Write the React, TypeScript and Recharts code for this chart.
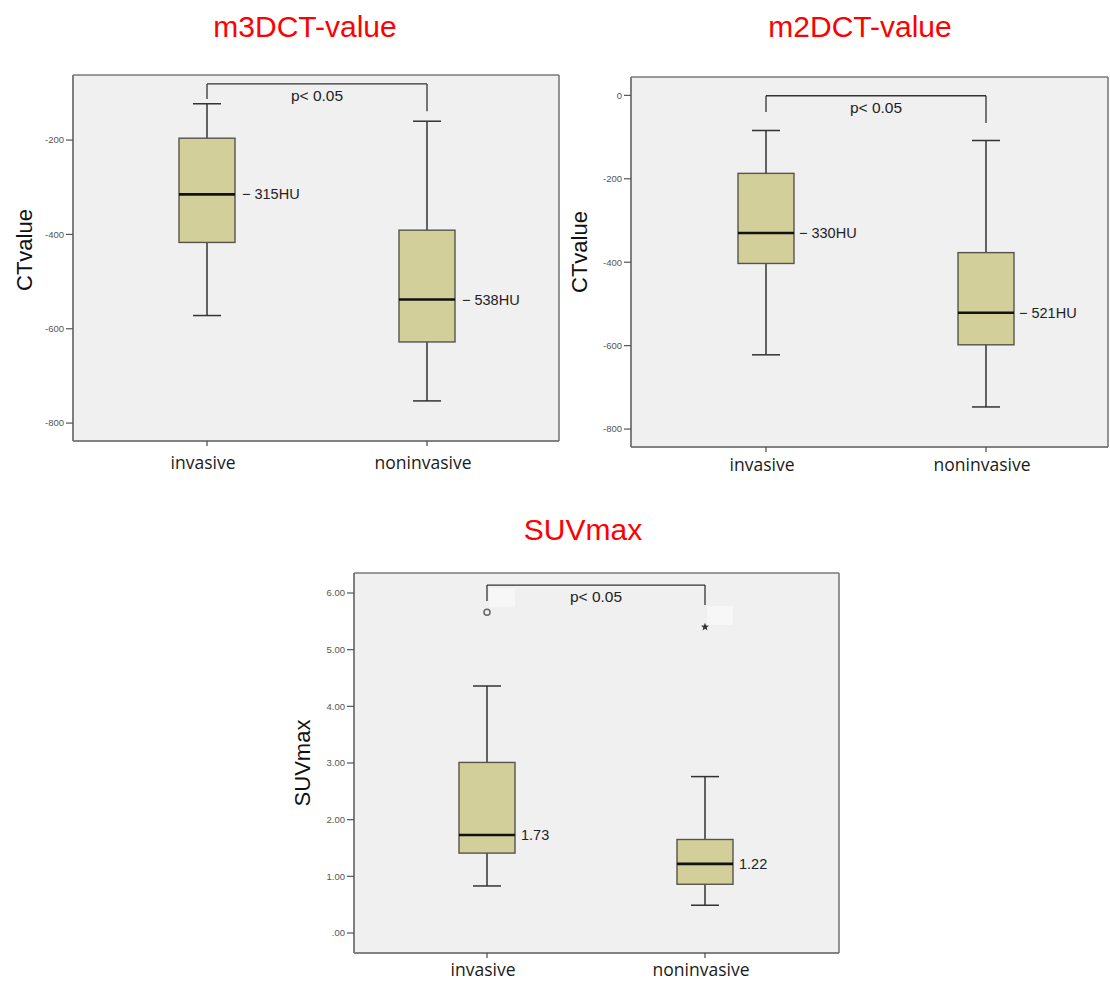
import React from 'react';
import { ComposedChart, Bar, XAxis, YAxis, CartesianGrid, ReferenceLine, Scatter } from 'recharts';

// ---------- data ----------
const categories = ['invasive', 'noninvasive'];

// m3DCT-value (HU)
const m3Min = [-572, -753];
const m3Q1 = [-417, -628];
const m3Median = [-315, -538];
const m3Q3 = [-196, -391];
const m3Max = [-123, -160];
const m3Labels = ['\u2212 315HU', '\u2212 538HU'];
const m3Ticks = [-800, -600, -400, -200];
const m3Domain = [-838, -62];
const m3Bracket = [-81, -113, -139]; // bar level, left end, right end

// m2DCT-value (HU)
const m2Min = [-622, -747];
const m2Q1 = [-403, -598];
const m2Median = [-330, -521];
const m2Q3 = [-187, -377];
const m2Max = [-84, -108];
const m2Labels = ['\u2212 330HU', '\u2212 521HU'];
const m2Ticks = [-800, -600, -400, -200, 0];
const m2Domain = [-843, 44];
const m2Bracket = [-1, -40, -66];

// SUVmax
const suvMin = [0.83, 0.49];
const suvQ1 = [1.41, 0.86];
const suvMedian = [1.73, 1.22];
const suvQ3 = [3.01, 1.65];
const suvMax = [4.36, 2.76];
const suvLabels = ['1.73', '1.22'];
const suvOutliers = [5.66, 5.4];
const suvOutlierMarks = ['circle', 'star'];
const suvTicks = [0, 1, 2, 3, 4, 5, 6];
const suvDomain = [-0.353, 6.353];
const suvBracket = [6.14, 5.86, 5.79];

const pText = 'p< 0.05';

function buildRows(mins: number[], q1s: number[], meds: number[], q3s: number[], maxs: number[], labels: string[], outliers?: number[], marks?: string[]) {
  return categories.map((name, i) => ({
    name,
    min: mins[i],
    q1: q1s[i],
    median: meds[i],
    q3: q3s[i],
    max: maxs[i],
    range: [mins[i], maxs[i]],
    label: labels[i],
    outlier: outliers ? outliers[i] : undefined,
    mark: marks ? marks[i] : undefined,
  }));
}

const m3Rows = buildRows(m3Min, m3Q1, m3Median, m3Q3, m3Max, m3Labels);
const m2Rows = buildRows(m2Min, m2Q1, m2Median, m2Q3, m2Max, m2Labels);
const suvRows = buildRows(suvMin, suvQ1, suvMedian, suvQ3, suvMax, suvLabels, suvOutliers, suvOutlierMarks);

// ---------- styles ----------
const FRAME = '#7a7a7a';
const BOX_FILL = '#d3cf9a';
const BOX_STROKE = '#55554a';
const WHISKER = '#333333';
const PLOT_BG = '#f0f0f0';
const SANS = '"Liberation Sans", Arial, sans-serif';
const CAT_FONT = '"Open Sans", "Noto Sans", sans-serif';

function makeBoxShape(labelGap: number, labelSize: number) {
  return (props: any) => {
    const { x, y, width, height } = props;
    const d = props.payload ?? props;
    const { min, max, q1, q3, median, label } = d;
    if (height == null || !isFinite(height)) return <g />;
    const py = (v: number) => y + ((max - v) / (max - min)) * height;
    const cx = x + width / 2;
    const capHalf = width / 4;
    return (
      <g>
        <line x1={cx} x2={cx} y1={py(max)} y2={py(q3)} stroke={WHISKER} strokeWidth={1.5} />
        <line x1={cx} x2={cx} y1={py(q1)} y2={py(min)} stroke={WHISKER} strokeWidth={1.5} />
        <line x1={cx - capHalf} x2={cx + capHalf} y1={py(max)} y2={py(max)} stroke={WHISKER} strokeWidth={1.5} />
        <line x1={cx - capHalf} x2={cx + capHalf} y1={py(min)} y2={py(min)} stroke={WHISKER} strokeWidth={1.5} />
        <rect x={x} y={py(q3)} width={width} height={py(q1) - py(q3)} fill={BOX_FILL} stroke={BOX_STROKE} strokeWidth={1.4} />
        <line x1={x} x2={x + width} y1={py(median)} y2={py(median)} stroke="#111" strokeWidth={2.6} />
        <text x={x + width + labelGap} y={py(median)} dy="0.35em" fontFamily={SANS} fontSize={labelSize} fill="#222">
          {label}
        </text>
      </g>
    );
  };
}

const OutlierShape = (props: any) => {
  const { cx, cy, payload } = props;
  if (cx == null || cy == null) return <g />;
  const mark = payload?.mark;
  const pts: string[] = [];
  for (let k = 0; k < 10; k++) {
    const r = k % 2 === 0 ? 4.2 : 1.8;
    const a = -Math.PI / 2 + (k * Math.PI) / 5;
    pts.push(`${cx + r * Math.cos(a)},${cy + r * Math.sin(a)}`);
  }
  return (
    <g>
      <rect x={cx + 2} y={cy - (mark === 'star' ? 21 : 24)} width={26} height={19} fill="#f7f7f7" />
      {mark === 'star' ? (
        <polygon points={pts.join(' ')} fill="#333" />
      ) : (
        <circle cx={cx} cy={cy} r={3} fill="none" stroke="#666" strokeWidth={1.5} />
      )}
    </g>
  );
};

type PanelProps = {
  left: number;
  top: number;
  width: number;
  height: number;
  marginTop: number;
  marginRight: number;
  yWidth: number;
  xHeight: number;
  padL: number;
  padR: number;
  rows: any[];
  ticks: number[];
  domain: number[];
  fmt: (v: number) => string;
  yLabel: string;
  yLabelX: number;
  yLabelDy: number;
  bracket: number[];
  labelGap: number;
  labelSize: number;
  catDy: number;
  withOutliers?: boolean;
};

// frame lines along the plot-area edges, taken from the chart's own layout offset
const frameH = (args: any) => {
  const o = args.offset;
  return [o.top, o.top + o.height];
};
const frameV = (args: any) => {
  const o = args.offset;
  return [o.left, o.left + o.width];
};

function Panel(p: PanelProps) {
  const shape = makeBoxShape(p.labelGap, p.labelSize);
  const CatTick = (tp: any) => (
    <text x={tp.x} y={tp.y} dx={-4} dy={p.catDy} textAnchor="middle" fontFamily={CAT_FONT} fontSize={17.5} fill="#1a1a1a">
      {tp.payload.value}
    </text>
  );
  const YLabel = (lp: any) => {
    const vb = lp.viewBox || {};
    const cx = vb.x + p.yLabelX;
    const cy = vb.y + vb.height / 2 + p.yLabelDy;
    return (
      <text x={cx} y={cy} transform={`rotate(-90 ${cx} ${cy})`} textAnchor="middle" dy="0.35em" fontFamily={SANS} fontSize={22} fill="#111">
        {p.yLabel}
      </text>
    );
  };
  const lineStyle = { stroke: '#333', strokeWidth: 1.3 };
  return (
    <div style={{ position: 'absolute', left: p.left, top: p.top, width: p.width, height: p.height }}>
      <ComposedChart
        width={p.width}
        height={p.height}
        data={p.rows}
        margin={{ top: p.marginTop, right: p.marginRight, bottom: 0, left: 0 }}
      >
        <CartesianGrid
          fill={PLOT_BG}
          fillOpacity={1}
          stroke={FRAME}
          strokeWidth={1.6}
          horizontalCoordinatesGenerator={frameH}
          verticalCoordinatesGenerator={frameV}
        />
        <XAxis
          dataKey="name"
          type="category"
          height={p.xHeight}
          padding={{ left: p.padL, right: p.padR }}
          tickSize={5}
          tickLine={{ stroke: '#555', strokeWidth: 1.3 }}
          axisLine={{ stroke: FRAME, strokeWidth: 1.6 }}
          tick={CatTick}
          interval={0}
        />
        <YAxis
          type="number"
          width={p.yWidth}
          domain={p.domain}
          ticks={p.ticks}
          allowDataOverflow
          interval={0}
          tickFormatter={p.fmt}
          tickSize={7}
          tickMargin={2}
          tickLine={{ stroke: '#555', strokeWidth: 1.2 }}
          axisLine={{ stroke: FRAME, strokeWidth: 1.6 }}
          tick={{ fontSize: 9.5, fill: '#555', fontFamily: SANS }}
          label={<YLabel />}
        />
        <Bar dataKey="range" barSize={56} shape={shape} isAnimationActive={false} />
        {p.withOutliers ? (
          <Scatter dataKey="outlier" shape={OutlierShape} isAnimationActive={false} />
        ) : null}
        <ReferenceLine
          segment={[{ x: categories[0], y: p.bracket[0] }, { x: categories[1], y: p.bracket[0] }]}
          {...lineStyle}
          label={{ value: pText, position: 'bottom', offset: 6, fontSize: 15.5, fill: '#222', fontFamily: SANS }}
        />
        <ReferenceLine segment={[{ x: categories[0], y: p.bracket[0] }, { x: categories[0], y: p.bracket[1] }]} {...lineStyle} />
        <ReferenceLine segment={[{ x: categories[1], y: p.bracket[0] }, { x: categories[1], y: p.bracket[2] }]} {...lineStyle} />
      </ComposedChart>
    </div>
  );
}

const intFmt = (v: number) => String(v);
const suvFmt = (v: number) => (v === 0 ? '.00' : v.toFixed(2));

export default function App() {
  return (
    <div style={{ position: 'absolute', left: 0, top: 0, width: 1110, height: 983, background: '#fff', overflow: 'hidden' }}>
      <svg width={1110} height={983} style={{ position: 'absolute', left: 0, top: 0 }}>
        <text x={305} y={37} textAnchor="middle" fontFamily={SANS} fontSize={30} fill="#ff0000">m3DCT-value</text>
        <text x={860} y={37} textAnchor="middle" fontFamily={SANS} fontSize={30} fill="#ff0000">m2DCT-value</text>
        <text x={583} y={540} textAnchor="middle" fontFamily={SANS} fontSize={30} fill="#ff0000">SUVmax</text>
      </svg>
      <Panel
        left={0} top={0} width={570} height={490}
        marginTop={75} marginRight={11} yWidth={73} xHeight={49}
        padL={24} padR={22}
        rows={m3Rows} ticks={m3Ticks} domain={m3Domain} fmt={intFmt}
        yLabel="CTvalue" yLabelX={24} yLabelDy={-8} bracket={m3Bracket}
        labelGap={7} labelSize={14.5} catDy={21}
      />
      <Panel
        left={560} top={0} width={550} height={490}
        marginTop={77} marginRight={2} yWidth={71} xHeight={43}
        padL={25} padR={12}
        rows={m2Rows} ticks={m2Ticks} domain={m2Domain} fmt={intFmt}
        yLabel="CTvalue" yLabelX={19} yLabelDy={-10} bracket={m2Bracket}
        labelGap={5} labelSize={14.5} catDy={17}
      />
      <Panel
        left={280} top={500} width={570} height={483}
        marginTop={73} marginRight={11} yWidth={74} xHeight={30}
        padL={24} padR={25}
        rows={suvRows} ticks={suvTicks} domain={suvDomain} fmt={suvFmt}
        yLabel="SUVmax" yLabelX={22} yLabelDy={0} bracket={suvBracket}
        labelGap={6} labelSize={14.5} catDy={16} withOutliers
      />
    </div>
  );
}
